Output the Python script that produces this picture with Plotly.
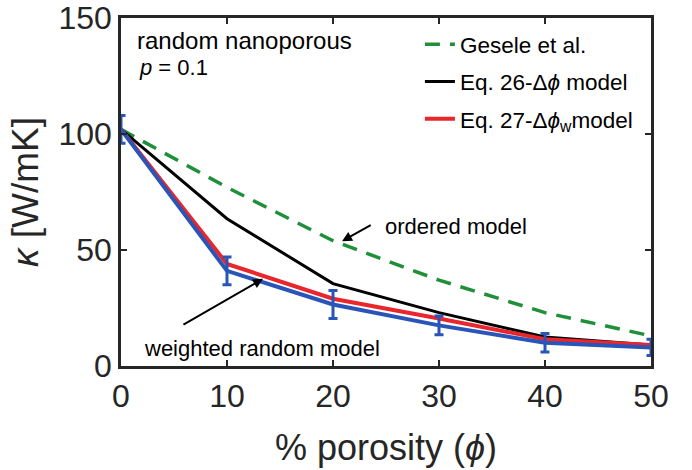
import plotly.graph_objects as go

# Porosity (%) and thermal conductivity (W/mK)
porosity = [0, 10, 20, 30, 40, 50]
gesele = [102, 77, 54, 37, 23, 13]
eq26 = [102, 63.5, 35.5, 23, 12.5, 9]
eq27 = [102, 44, 29, 20.5, 11.5, 9]
random_sim = [102, 41, 26.5, 17.5, 10, 8]
random_err = [6, 6, 6, 4, 4, 3.5]

FONT = "Liberation Sans, Arial, Helvetica, sans-serif"
AXIS_COLOR = "#262626"

fig = go.Figure()

fig.add_trace(go.Scatter(
    x=porosity, y=gesele, mode="lines", name="Gesele et al.",
    line=dict(color="#1f8f3a", width=3.5, dash="15px,10px"),
    legendgroup="g1",
))
fig.add_trace(go.Scatter(
    x=porosity, y=eq26, mode="lines", name="Eq. 26-Δ<i>ϕ</i> model",
    line=dict(color="#000000", width=3),
    legendgroup="g2",
))
fig.add_trace(go.Scatter(
    x=porosity, y=eq27, mode="lines", name="Eq. 27-Δ<i>ϕ</i><sub>w</sub>model",
    line=dict(color="#e8262b", width=4),
    legendgroup="g3",
))
fig.add_trace(go.Scatter(
    x=porosity, y=random_sim, mode="lines", showlegend=False,
    line=dict(color="#2a55b8", width=4),
    error_y=dict(type="data", array=random_err, visible=True,
                 color="#2a55b8", thickness=3, width=4.5),
))

axis_common = dict(
    showline=True, linecolor=AXIS_COLOR, linewidth=2.5, mirror="ticks",
    ticks="inside", ticklen=6, tickwidth=2, tickcolor=AXIS_COLOR,
    showgrid=False, zeroline=False, automargin=False,
    ticklabeloverflow="allow",
    tickfont=dict(family=FONT, size=32, color=AXIS_COLOR),
)

fig.update_xaxes(
    range=[0, 50], tickvals=[0, 10, 20, 30, 40, 50],
    title=dict(text="% porosity (<i>ϕ</i>)", font=dict(family=FONT, size=36, color=AXIS_COLOR), standoff=22),
    **axis_common,
)
fig.update_yaxes(
    range=[0, 150], tickvals=[0, 50, 100, 150],
    title=dict(text="<i>κ</i> [W/mK]", font=dict(family=FONT, size=37, color=AXIS_COLOR), standoff=9),
    **axis_common,
)

annotations = [
    dict(x=1.3, y=140.5, xref="x", yref="y", text="random nanoporous",
         showarrow=False, xanchor="left", yanchor="middle",
         font=dict(family=FONT, size=24, color="#000")),
    dict(x=1.5, y=128.6, xref="x", yref="y", text="<i>p</i> = 0.1",
         showarrow=False, xanchor="left", yanchor="middle",
         font=dict(family=FONT, size=22, color="#000")),
    dict(x=24.7, y=60.3, xref="x", yref="y", text="ordered model",
         showarrow=False, xanchor="left", yanchor="middle",
         font=dict(family=FONT, size=22, color="#000")),
    dict(x=2.0, y=7.7, xref="x", yref="y", text="weighted random model",
         showarrow=False, xanchor="left", yanchor="middle",
         font=dict(family=FONT, size=22, color="#000")),
    # arrows pointing at the curves
    dict(x=20.85, y=53.8, ax=23.7, ay=61.1, xref="x", yref="y", axref="x", ayref="y",
         text="", showarrow=True, arrowhead=2, arrowsize=1, arrowwidth=2, arrowcolor="#000"),
    dict(x=13.4, y=37.6, ax=5.75, ay=17.5, xref="x", yref="y", axref="x", ayref="y",
         text="", showarrow=True, arrowhead=2, arrowsize=1, arrowwidth=2, arrowcolor="#000"),
]

fig.update_layout(
    width=692, height=470,
    margin=dict(l=121, r=41, t=18, b=104),
    paper_bgcolor="white", plot_bgcolor="white",
    font=dict(family=FONT, color="#000"),
    annotations=annotations,
    legend=dict(
        x=0.564, y=0.985, xanchor="left", yanchor="top",
        bgcolor="rgba(0,0,0,0)", borderwidth=0,
        font=dict(family=FONT, size=22.5, color="#000"),
        traceorder="grouped", tracegroupgap=5,
    ),
)

fig.write_html("out.html")
